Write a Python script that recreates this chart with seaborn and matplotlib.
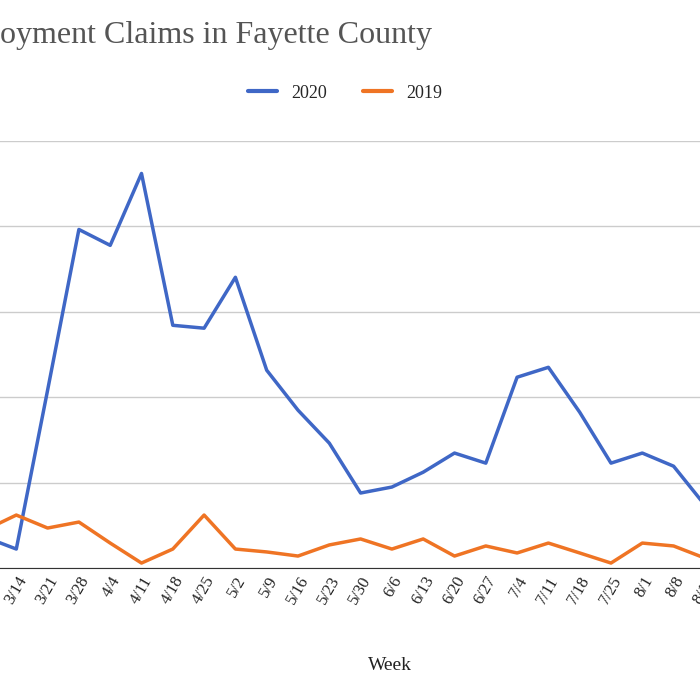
import matplotlib
matplotlib.use("Agg")
import matplotlib.pyplot as plt
import seaborn as sns
import pandas as pd

weeks = ["3/7","3/14","3/21","3/28","4/4","4/11","4/18","4/25","5/2","5/9","5/16","5/23",
         "5/30","6/6","6/13","6/20","6/27","7/4","7/11","7/18","7/25","8/1","8/8","8/15"]
claims_2020 = [181,111,1041,1982,1889,2310,1421,1404,1702,1158,924,731,
               439,474,561,673,614,1117,1175,912,614,673,596,368]
claims_2019 = [222,310,234,269,146,29,111,310,111,94,70,135,
               170,111,170,70,129,88,146,88,29,146,129,58]

sns.set_style("white")
plt.rcParams['font.family'] = ['Liberation Serif', 'DejaVu Serif']

df = pd.DataFrame({"Week": list(range(len(weeks))) * 2,
                   "Claims": claims_2020 + claims_2019,
                   "Year": ["2020"] * len(weeks) + ["2019"] * len(weeks)})

fig = plt.figure(figsize=(7, 7), dpi=100)
sp = 31.3
left_px = -15 - 0.5 * sp
right_px = -15 + 23.5 * sp
ax = fig.add_axes([left_px / 700, 1 - 568 / 700, (right_px - left_px) / 700, (568 - 141) / 700])
sns.lineplot(data=df, x="Week", y="Claims", hue="Year", palette={"2020": "#3f67c6", "2019": "#ef7424"},
             linewidth=2.5, ax=ax, legend=False)
ax.set_xlim(-0.5, 23.5)
ax.set_ylim(0, 2500)
ax.set_yticks([0, 500, 1000, 1500, 2000, 2500])
ax.yaxis.grid(True, color="#cccccc", linewidth=1)
ax.set_yticklabels([])
ax.tick_params(axis='y', length=0)
for s in ["top", "right", "left"]:
    ax.spines[s].set_visible(False)
ax.spines["bottom"].set_color("#333333")
ax.set_xticks(range(len(weeks)))
ax.set_xticklabels(weeks, rotation=60, ha="right", rotation_mode="anchor", fontsize=12, color="#222222")
ax.tick_params(axis='x', length=0, pad=4)
ax.set_xlabel("")
ax.set_ylabel("")
fig.text(390 / 700, 1 - 665 / 700, "Week", ha="center", va="center", fontsize=14, color="#222222")
fig.text(432 / 700, 1 - 35 / 700, "Unemployment Claims in Fayette County", ha="right", va="center",
         fontsize=23, color="#555555")
from matplotlib.lines import Line2D
handles = [Line2D([], [], color="#3f67c6", lw=3), Line2D([], [], color="#ef7424", lw=3)]
fig.legend(handles, ["2020", "2019"], loc="center", bbox_to_anchor=(345 / 700, 1 - 93 / 700), ncol=2,
           frameon=False, fontsize=13, handlelength=1.6, columnspacing=2.0)
fig.savefig("out.png", dpi=100)
